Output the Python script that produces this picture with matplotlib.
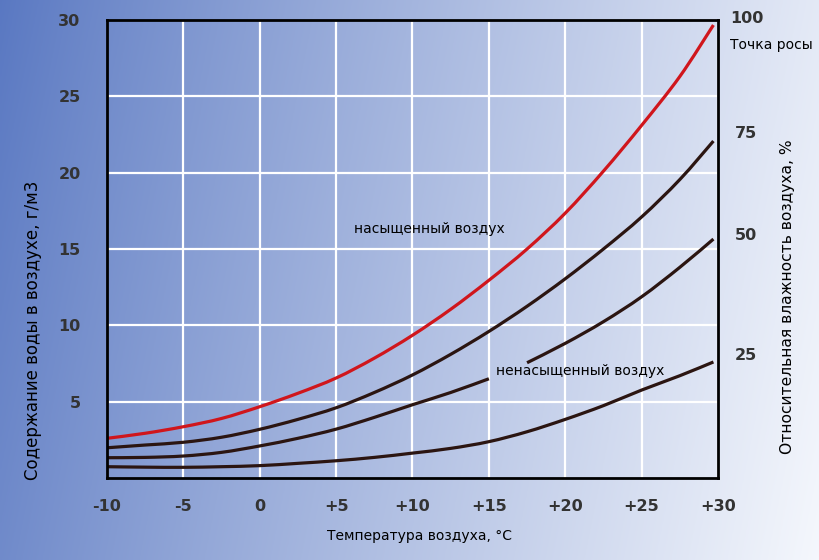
import numpy as np
import matplotlib
matplotlib.use("Agg")
import matplotlib.pyplot as plt
from matplotlib.path import Path
from matplotlib.patches import PathPatch

# temperature, °C
temps = np.array([-10, -7.5, -5, -2.5, 0, 2.5, 5, 7.5, 10, 12.5, 15,
                  17.5, 20, 22.5, 25, 27.5, 29.7])
# water content, g/m3
rh100 = [2.6, 2.93, 3.36, 3.9, 4.67, 5.55, 6.55, 7.85, 9.35, 11.05, 12.95,
         15.0, 17.35, 20.1, 23.1, 26.3, 29.67]
rh75 = [1.98, 2.16, 2.34, 2.67, 3.19, 3.84, 4.6, 5.6, 6.75, 8.1, 9.6,
        11.25, 13.05, 15.0, 17.1, 19.55, 22.07]
rh50 = [1.33, 1.35, 1.44, 1.68, 2.1, 2.6, 3.2, 3.97, 4.8, 5.6, 6.5,
        7.55, 8.82, 10.24, 11.87, 13.8, 15.65]
rh25 = [0.74, 0.71, 0.7, 0.74, 0.81, 0.96, 1.13, 1.35, 1.63, 1.94, 2.38,
        3.03, 3.84, 4.74, 5.76, 6.7, 7.6]

xticks = [-10, -5, 0, 5, 10, 15, 20, 25, 30]
xticklabels = ["-10", "-5", "0", "+5", "+10", "+15", "+20", "+25", "+30"]
yticks = [5, 10, 15, 20, 25, 30]
rh_labels = ["100", "75", "50", "25"]


def smooth_curve(ax, x, y, **kw):
    # draws a Catmull-Rom style bezier through the read points
    p = np.column_stack([x, y]).astype(float)
    ext = np.vstack([p[0], p, p[-1]])
    verts = [p[0]]
    codes = [Path.MOVETO]
    for i in range(len(p) - 1):
        a, b, c, d = ext[i], ext[i + 1], ext[i + 2], ext[i + 3]
        verts += [b + (c - a) / 6, c - (d - b) / 6, c]
        codes += [Path.CURVE4] * 3
    ax.add_patch(PathPatch(Path(verts, codes), fill=False, **kw))


fig = plt.figure(figsize=(8.2, 5.6), dpi=100)

# gradient background over the whole figure
bg = fig.add_axes([0, 0, 1, 1], zorder=-5)
gx, gy = np.meshgrid(np.linspace(0, 1, 400), np.linspace(0, 1, 300))
t = np.clip(gx * 0.88 + gy * 0.12, 0, 1) ** 0.9
c0 = np.array([0.35, 0.47, 0.76])
c1 = np.array([0.96, 0.97, 0.99])
img = c0 + (c1 - c0) * t[..., None]
bg.imshow(img, aspect="auto", extent=[0, 1, 0, 1], origin="upper")
bg.axis("off")

ax = fig.add_axes([107 / 820, 82 / 560, 611 / 820, 458 / 560])
ax.set_facecolor("none")
ax.set_xlim(-10, 30)
ax.set_ylim(0, 30)

red = "#d0161c"
dark = "#2b1511"
style = dict(lw=2.3, capstyle="butt", joinstyle="round")
smooth_curve(ax, temps, rh100, edgecolor=red, **style)
smooth_curve(ax, temps, rh75, edgecolor=dark, **style)
lo = temps <= 15
hi = temps >= 17.5
smooth_curve(ax, temps[lo], np.array(rh50)[lo], edgecolor=dark, **style)
smooth_curve(ax, temps[hi], np.array(rh50)[hi], edgecolor=dark, **style)
smooth_curve(ax, temps, rh25, edgecolor=dark, **style)

ax.set_xticks(xticks)
ax.set_xticklabels(xticklabels)
ax.set_yticks(yticks)
ax.tick_params(length=0, labelsize=11.5, labelcolor="#333333")
ax.tick_params(axis="x", pad=15)
ax.tick_params(axis="y", pad=19)
for lab in ax.get_xticklabels() + ax.get_yticklabels():
    lab.set_fontweight("bold")
ax.grid(True, color="white", lw=1.6)
ax.set_axisbelow(True)
for s in ax.spines.values():
    s.set_color("black")
    s.set_linewidth(2)
    s.set_zorder(5)

# relative humidity labels at the ends of the curves
ends = [rh100[-1], rh75[-1], rh50[-1], rh25[-1]]
offs = [0.45, 0.5, 0.25, 0.45]
for lab, e, o in zip(rh_labels, ends, offs):
    ax.text(1.02 if lab == "100" else 1.028, (e + o) / 30, lab,
            transform=ax.transAxes, fontsize=11.5, fontweight="bold",
            color="#333333", va="center", ha="left")
ax.text(1.02, (rh100[-1] - 1.3) / 30, "Точка росы", transform=ax.transAxes,
        fontsize=10, color="black", va="center", ha="left")

ax.text(6.2, 16.3, "насыщенный воздух", fontsize=10, color="black",
        va="center", ha="left")
ax.text(15.45, 7.0, "ненасыщенный воздух", fontsize=10, color="black",
        va="center", ha="left")

fig.text(420 / 820, 1 - 536 / 560, "Температура воздуха, °C", fontsize=10,
         va="center", ha="center")
fig.text(33 / 820, 1 - 330 / 560, "Содержание воды в воздухе, г/м3",
         rotation=90, fontsize=12, va="center", ha="center")
fig.text(788 / 820, 1 - 297 / 560, "Относительная влажность воздуха, %",
         rotation=90, fontsize=11.2, va="center", ha="center")

fig.savefig("out.png", dpi=100)
